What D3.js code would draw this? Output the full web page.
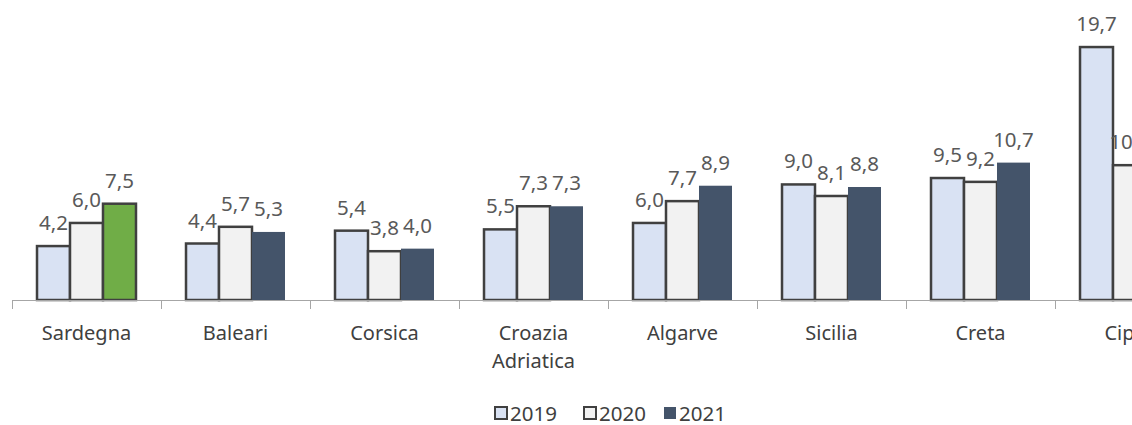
<!DOCTYPE html>
<html>
<head>
<meta charset="utf-8">
<script src="https://cdn.jsdelivr.net/npm/d3@7"></script>
<style>
  body { margin: 0; background: #fff; }
  svg { display: block; font-family: "Noto Sans", "Open Sans", sans-serif; }
</style>
</head>
<body>
<svg id="chart"></svg>
<script>
// categories and values
const categories = ["Sardegna", "Baleari", "Corsica", "Croazia\nAdriatica", "Algarve", "Sicilia", "Creta", "Cipro"];
const years = ["2019", "2020", "2021"];
const v2019 = [4.2, 4.4, 5.4, 5.5, 6.0, 9.0, 9.5, 19.7];
const v2020 = [6.0, 5.7, 3.8, 7.3, 7.7, 8.1, 9.2, 10.5];
const v2021 = [7.5, 5.3, 4.0, 7.3, 8.9, 8.8, 10.7, 11.0];

const width = 1132, height = 425;
const baseY = 300;

const svg = d3.select("#chart").attr("width", width).attr("height", height);

const x = d3.scaleBand().domain(categories).range([12, 12 + 149 * categories.length]).paddingInner(0).paddingOuter(0);
const xs = d3.scaleBand().domain(years).range([0, x.bandwidth()]).paddingInner(0).paddingOuter(0.758);
const y = d3.scaleLinear().domain([0, 20]).range([baseY, baseY - 256.8]);

const fills = { "2019": "#D9E2F3", "2020": "#F2F2F2", "2021": "#44546A" };
const strokes = { "2019": "#404040", "2020": "#404040", "2021": "none" };

const rows = [];
categories.forEach((c, i) => {
  [v2019, v2020, v2021].forEach((arr, j) => {
    rows.push({ cat: c, year: years[j], value: arr[i], idx: i });
  });
});

// bars
svg.append("g").selectAll("rect")
  .data(rows)
  .join("rect")
  .attr("x", d => x(d.cat) + xs(d.year))
  .attr("y", d => y(d.value))
  .attr("width", xs.bandwidth())
  .attr("height", d => baseY - y(d.value))
  .attr("fill", d => (d.idx === 0 && d.year === "2021") ? "#70AD47" : fills[d.year])
  .attr("stroke", d => (d.idx === 0 && d.year === "2021") ? "#404040" : strokes[d.year])
  .attr("stroke-width", 2.5);

// axis line + ticks
const axis = svg.append("g").attr("stroke", "#A6A6A6").attr("stroke-width", 1);
axis.append("line").attr("x1", 12).attr("x2", width).attr("y1", baseY + 0.5).attr("y2", baseY + 0.5);
axis.selectAll("line.tick")
  .data(categories.map(c => x(c)))
  .join("line")
  .attr("class", "tick")
  .attr("x1", d => Math.round(d) + 0.5).attr("x2", d => Math.round(d) + 0.5)
  .attr("y1", baseY).attr("y2", baseY + 9);

// value labels
svg.append("g").selectAll("text")
  .data(rows)
  .join("text")
  .attr("x", d => x(d.cat) + xs(d.year) + xs.bandwidth() / 2)
  .attr("y", d => y(d.value) - 16)
  .attr("text-anchor", "middle")
  .attr("font-size", 20.5)
  .attr("fill", "#595959")
  .text(d => d3.format(".1f")(d.value).replace(".", ","));

// category labels
const cl = svg.append("g").selectAll("text")
  .data(categories)
  .join("text")
  .attr("x", d => x(d) + x.bandwidth() / 2)
  .attr("y", 340)
  .attr("text-anchor", "middle")
  .attr("font-size", 20)
  .attr("fill", "#404040");
cl.selectAll("tspan")
  .data(d => d.split("\n").map((t, k) => ({ t, k, cx: x(d) + x.bandwidth() / 2 })))
  .join("tspan")
  .attr("x", d => d.cx)
  .attr("dy", d => d.k === 0 ? 0 : 28)
  .text(d => d.t);

// legend
const legendX = [494, 583, 663];
const lg = svg.append("g").selectAll("g")
  .data(years)
  .join("g")
  .attr("transform", (d, i) => `translate(${legendX[i]},406)`);
lg.append("rect")
  .attr("x", 1).attr("y", 1).attr("width", 12).attr("height", 12)
  .attr("fill", d => fills[d])
  .attr("stroke", d => d === "2021" ? "none" : "#404040")
  .attr("stroke-width", 2);
lg.append("text")
  .attr("x", 16).attr("y", 15)
  .attr("font-size", 20.5)
  .attr("fill", "#404040")
  .text(d => d);
</script>
</body>
</html>
